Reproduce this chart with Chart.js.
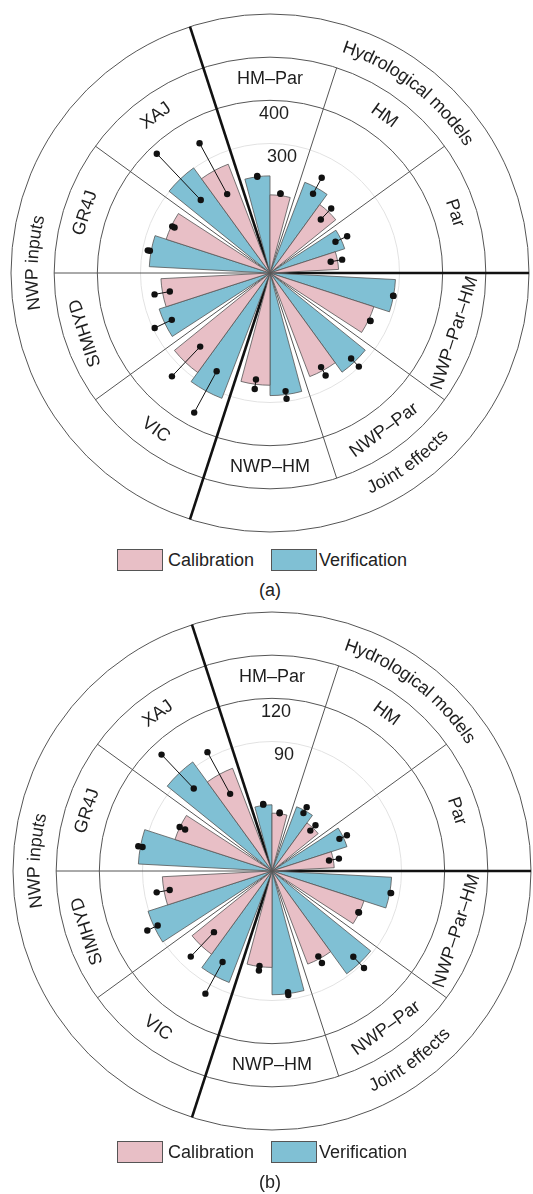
<!DOCTYPE html>
<html>
<head>
<meta charset="utf-8">
<script src="https://cdn.jsdelivr.net/npm/chart.js@4.4.0/dist/chart.umd.min.js"></script>
<style>
  body { margin: 0; background: #fff; font-family: "Liberation Sans", Arial, sans-serif; color: #222; }
  #page { position: relative; width: 533px; height: 1194px; overflow: hidden; }
  .panel { position: absolute; left: 0; width: 533px; height: 546px; }
  .legend { position: absolute; left: 0; width: 533px; height: 24px; font-size: 18px; line-height: 22px; }
  .legend span { position: absolute; top: 0; }
  .box { width: 44px; height: 20px; border: 1px solid #555; }
  .cap { position: absolute; left: 245px; width: 50px; text-align: center; font-size: 18px; }
</style>
</head>
<body>
<div id="page">
  <canvas id="chartA" class="panel" width="533" height="546" style="top:0"></canvas>
  <div class="legend" style="top:549px">
    <span class="box" style="left:117px;background:#e8bfc6"></span><span style="left:168px">Calibration</span>
    <span class="box" style="left:271px;background:#80c0d4"></span><span style="left:319px">Verification</span>
  </div>
  <div class="cap" style="top:580px">(a)</div>

  <canvas id="chartB" class="panel" width="533" height="546" style="top:598px"></canvas>
  <div class="legend" style="top:1141px">
    <span class="box" style="left:117px;background:#e8bfc6"></span><span style="left:168px">Calibration</span>
    <span class="box" style="left:271px;background:#80c0d4"></span><span style="left:319px">Verification</span>
  </div>
  <div class="cap" style="top:1172px">(b)</div>
</div>
<script>
const sectors = ["HM–Par", "HM", "Par", "NWP–Par–HM", "NWP–Par", "NWP–HM", "VIC", "SIMHYD", "GR4J", "XAJ"];
const groups = ["Hydrological models", "Joint effects", "NWP inputs"];
const groupStart = [0, 3, 6]; // first sector of each group
const groupNudge = [1.5, 0, 2.5]; // small label shifts seen in the figure, degrees

// panel (a)
const calibA = [181, 196, 159, 253, 257, 260, 285, 253, 253, 270];
const verifA = [225, 225, 182, 291, 284, 284, 311, 270, 280, 301];
const calibLoA = [185, 171, 143, 257, 248, 249, 235, 236, 245, 208];
const calibHiA = [186, 206, 170, 258, 270, 271, 330, 272, 251, 342];
const verifLoA = [225, 209, 168, 290, 273, 276, 259, 252, 283, 233];
const verifHiA = [227, 251, 198, 291, 299, 294, 368, 296, 288, 381];
const ringsA = [300, 400, 500, 600];

// panel (b)
const calibB = [40.2, 41.3, 43.3, 67.2, 69.3, 67, 71.5, 76.3, 70.9, 76.5];
const verifB = [46, 47.8, 54.8, 83.2, 88.3, 86, 83, 90.6, 93, 93.7];
const calibLoB = [40.4, 38.7, 40.3, 66.5, 67.5, 66.5, 58.6, 72.3, 66.9, 61];
const calibHiB = [41, 43.9, 47.3, 67, 72.7, 69.7, 82, 81.5, 71.1, 94];
const verifLoB = [46.5, 45.8, 51.9, 83.8, 82.1, 85, 72, 88, 91.5, 79];
const verifHiB = [47, 50.5, 57.7, 84.2, 92.9, 87, 97, 96, 94.5, 111.5];
const ringsB = [90, 120, 150, 180];

const PINK = '#e8bfc6', BLUE = '#80c0d4';
const BAR = 15, GAP = 6, SECTOR = 2 * BAR + GAP;
const FONT = '18px "Liberation Sans", Arial, sans-serif';

const rad = d => d * Math.PI / 180;
const edge = k => -GAP / 2 - BAR + SECTOR * k; // sector boundary, degrees clockwise from top

function arcText(ctx, text, cx, cy, r, deg, flip) {
  const chars = [...text];
  const widths = chars.map(c => ctx.measureText(c).width);
  const total = widths.reduce((a, b) => a + b, 0);
  const dir = flip ? -1 : 1;
  let a = rad(deg) - dir * total / 2 / r;
  chars.forEach((ch, i) => {
    const mid = a + dir * widths[i] / 2 / r;
    ctx.save();
    ctx.translate(cx + r * Math.sin(mid), cy - r * Math.cos(mid));
    ctx.rotate(flip ? mid - Math.PI : mid);
    ctx.fillText(ch, 0, 0);
    ctx.restore();
    a += dir * widths[i] / r;
  });
}

function decor(p) {
  return {
    id: 'decor',
    beforeDatasetsDraw(chart) {
      const s = chart.scales.r, ctx = chart.ctx;
      const cx = s.xCenter, cy = s.yCenter;
      const rMid = s.getDistanceFromCenterForValue(p.rings[2]);
      const rOut = s.getDistanceFromCenterForValue(p.rings[3]);
      ctx.save();
      sectors.forEach((_, k) => {
        const th = rad(edge(k) - 90);
        const thick = groupStart.includes(k);
        const r = thick ? rOut : rMid;
        ctx.beginPath();
        ctx.moveTo(cx, cy);
        ctx.lineTo(cx + r * Math.cos(th), cy + r * Math.sin(th));
        ctx.lineWidth = thick ? 2.6 : 1;
        ctx.strokeStyle = thick ? '#111' : '#555';
        ctx.stroke();
      });
      ctx.restore();
    },
    afterDatasetsDraw(chart) {
      const s = chart.scales.r, ctx = chart.ctx;
      const cx = s.xCenter, cy = s.yCenter;
      const arcs = chart.getDatasetMeta(0).data;
      ctx.save();
      // whiskers with end dots, along each bar's middle ray
      const pairs = [];
      sectors.forEach((_, k) => {
        pairs.push([arcs[3 * k], p.verifLo[k], p.verifHi[k]]);
        pairs.push([arcs[3 * k + 1], p.calibLo[k], p.calibHi[k]]);
      });
      ctx.strokeStyle = '#111';
      ctx.fillStyle = '#111';
      ctx.lineWidth = 1;
      pairs.forEach(([arc, lo, hi]) => {
        const mid = (arc.startAngle + arc.endAngle) / 2;
        const pts = [lo, hi].map(v => {
          const r = s.getDistanceFromCenterForValue(v);
          return [cx + r * Math.cos(mid), cy + r * Math.sin(mid)];
        });
        ctx.beginPath();
        ctx.moveTo(pts[0][0], pts[0][1]);
        ctx.lineTo(pts[1][0], pts[1][1]);
        ctx.stroke();
        pts.forEach(pt => {
          ctx.beginPath();
          ctx.arc(pt[0], pt[1], 3.2, 0, 2 * Math.PI);
          ctx.fill();
        });
      });

      ctx.font = FONT;
      ctx.fillStyle = '#1e1e1e';
      ctx.textAlign = 'center';
      ctx.textBaseline = 'middle';
      // tick labels
      [p.rings[0], p.rings[1]].forEach((v, i) => {
        const r = s.getDistanceFromCenterForValue(v);
        ctx.fillText(String(v), cx + (i === 0 ? 12 : 4), cy - r + 13.5);
      });
      // sector labels
      const rSub = s.getDistanceFromCenterForValue((p.rings[1] + p.rings[2]) / 2);
      sectors.forEach((name, k) => {
        const deg = SECTOR * k;
        const flip = deg > 90 && deg < 250;
        ctx.save();
        ctx.translate(cx + rSub * Math.sin(rad(deg)), cy - rSub * Math.cos(rad(deg)));
        ctx.rotate(rad(flip ? deg - 180 : deg));
        ctx.fillText(name, 0, 0);
        ctx.restore();
      });
      // group labels, curved along the outer ring
      const rGrp = s.getDistanceFromCenterForValue((p.rings[2] + p.rings[3]) / 2);
      groups.forEach((name, g) => {
        const a0 = edge(groupStart[g]);
        const a1 = edge(g + 1 < groups.length ? groupStart[g + 1] : sectors.length);
        const deg = (a0 + a1) / 2 + groupNudge[g];
        arcText(ctx, name, cx, cy, rGrp, deg, deg > 90 && deg < 250);
      });
      ctx.restore();
    }
  };
}

function makeChart(id, p, pad) {
  const values = [], colors = [], borders = [], angles = [], labels = [];
  sectors.forEach((name, k) => {
    values.push(p.verif[k], p.calib[k], 0);
    colors.push(BLUE, PINK, 'rgba(0,0,0,0)');
    borders.push(0.8, 0.8, 0);
    angles.push(BAR, BAR, GAP);
    labels.push(name + ' verification', name + ' calibration', '');
  });
  return new Chart(document.getElementById(id), {
    type: 'polarArea',
    data: {
      labels: labels,
      datasets: [{
        data: values,
        backgroundColor: colors,
        borderColor: '#555',
        borderWidth: borders,
        angle: ctx => angles[ctx.dataIndex]
      }]
    },
    options: {
      responsive: false,
      animation: false,
      events: [],
      layout: { padding: pad },
      plugins: { legend: { display: false }, tooltip: { enabled: false } },
      scales: {
        r: {
          min: 0,
          max: p.rings[3],
          startAngle: -BAR,
          ticks: { display: false, stepSize: p.rings[1] - p.rings[0] },
          grid: {
            lineWidth: 1,
            color: c => c.tick.value === p.rings[0] ? '#e2e2e2' : (c.tick.value >= p.rings[1] ? '#555' : 'rgba(0,0,0,0)')
          }
        }
      }
    },
    plugins: [decor(p)]
  });
}

makeChart('chartA', {
  calib: calibA, verif: verifA, calibLo: calibLoA, calibHi: calibHiA,
  verifLo: verifLoA, verifHi: verifHiA, rings: ringsA
}, { left: 11, right: 4, top: 14, bottom: 14 });

makeChart('chartB', {
  calib: calibB, verif: verifB, calibLo: calibLoB, calibHi: calibHiB,
  verifLo: verifLoB, verifHi: verifHiB, rings: ringsB
}, { left: 13, right: 2, top: 14, bottom: 14 });
</script>
</body>
</html>
